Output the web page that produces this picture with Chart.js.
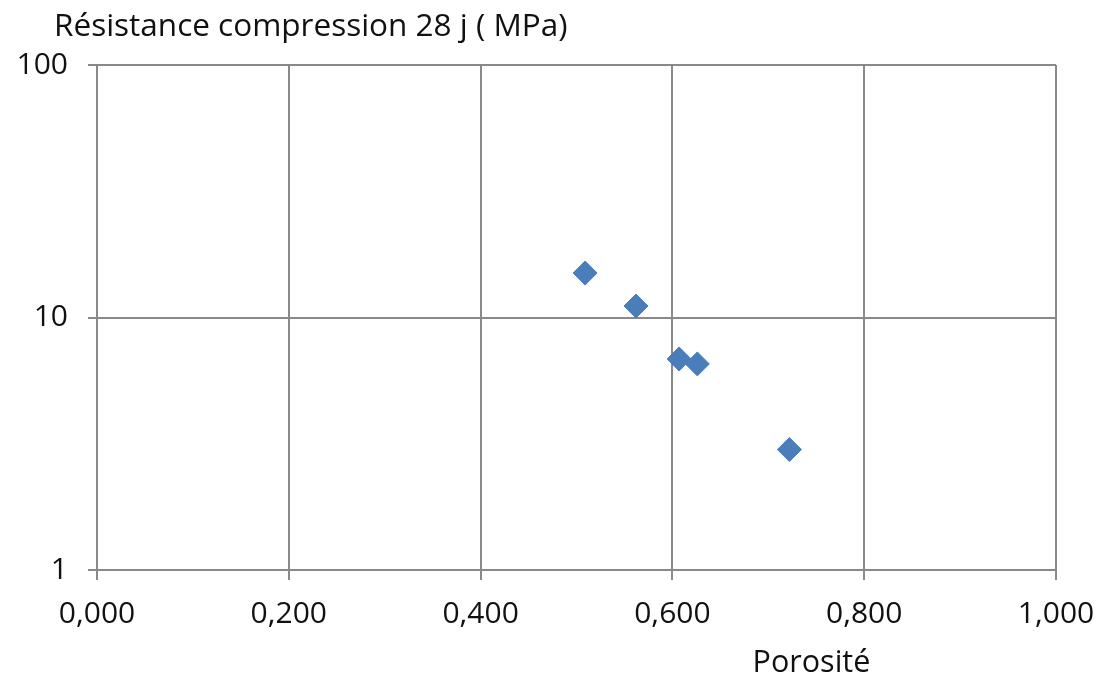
<!DOCTYPE html>
<html>
<head>
<meta charset="utf-8">
<script src="https://cdn.jsdelivr.net/npm/chart.js@4/dist/chart.umd.min.js"></script>
<style>
    html, body { margin: 0; padding: 0; background: #fff; }
    #wrap { width: 1113px; height: 677px; }
</style>
</head>
<body>
<div id="wrap"><canvas id="porosityChart"></canvas></div>
<script>
// données
let porosite = [0.509, 0.562, 0.607, 0.626, 0.722];
let resistance = [15.0, 11.1, 6.85, 6.55, 3.0];
let yTicks = [1, 10, 100];
let xTicks = [0, 0.2, 0.4, 0.6, 0.8, 1.0];

const titleText = 'Résistance compression 28 j ( MPa)';
const xTitleText = 'Porosité';
const fontFamily = '"Open Sans", Lato, sans-serif';
const gridColor = '#898989';
const textColor = '#111';

// titres dessinés à la main pour coller à la position d'origine
const textPlugin = {
    id: 'textPlugin',
    afterDraw(chart) {
        const ctx = chart.ctx;
        const area = chart.chartArea;
        ctx.save();
        ctx.fillStyle = textColor;
        ctx.font = '31.5px ' + fontFamily;
        ctx.textBaseline = 'alphabetic';
        ctx.textAlign = 'left';
        ctx.fillText(titleText, 54, 36);
        ctx.font = '30.5px ' + fontFamily;
        ctx.textAlign = 'center';
        ctx.fillText(xTitleText, area.left + 0.745 * (area.right - area.left), 672);
        ctx.restore();
    }
};

const ctx = document.getElementById('porosityChart').getContext('2d');
const chart = new Chart(ctx, {
    type: 'scatter',
    data: {
        datasets: [{
            label: 'Résistance',
            data: porosite.map((p, i) => ({ x: p, y: resistance[i] })),
            pointStyle: 'rectRot',
            pointRadius: 12,
            pointHoverRadius: 12,
            backgroundColor: '#4a7ebb',
            borderColor: '#4a7ebb',
            borderWidth: 1
        }]
    },
    options: {
        responsive: true,
        maintainAspectRatio: false,
        animation: false,
        layout: {
            padding: { left: 0, right: 57, top: 65, bottom: 0 }
        },
        plugins: {
            legend: { display: false },
            tooltip: { enabled: false }
        },
        scales: {
            x: {
                type: 'linear',
                min: 0,
                max: 1,
                afterBuildTicks(scale) {
                    scale.ticks = xTicks.map(v => ({ value: v }));
                },
                border: { color: gridColor, width: 2 },
                grid: {
                    color: gridColor,
                    lineWidth: 2,
                    drawTicks: true,
                    tickLength: 10
                },
                ticks: {
                    color: textColor,
                    font: { family: fontFamily, size: 30 },
                    padding: 16,
                    maxRotation: 0,
                    callback: v => v.toFixed(3).replace('.', ',')
                },
                afterFit(scale) { scale.height = 107; }
            },
            y: {
                type: 'logarithmic',
                min: 1,
                max: 100,
                afterBuildTicks(scale) {
                    scale.ticks = yTicks.map(v => ({ value: v, major: true }));
                },
                border: { color: gridColor, width: 2 },
                grid: {
                    color: gridColor,
                    lineWidth: 2,
                    drawTicks: true,
                    tickLength: 9
                },
                ticks: {
                    color: textColor,
                    font: { family: fontFamily, size: 30 },
                    padding: 20,
                    callback: v => String(v)
                },
                afterFit(scale) { scale.width = 97; }
            }
        }
    },
    plugins: [textPlugin]
});
</script>
</body>
</html>
